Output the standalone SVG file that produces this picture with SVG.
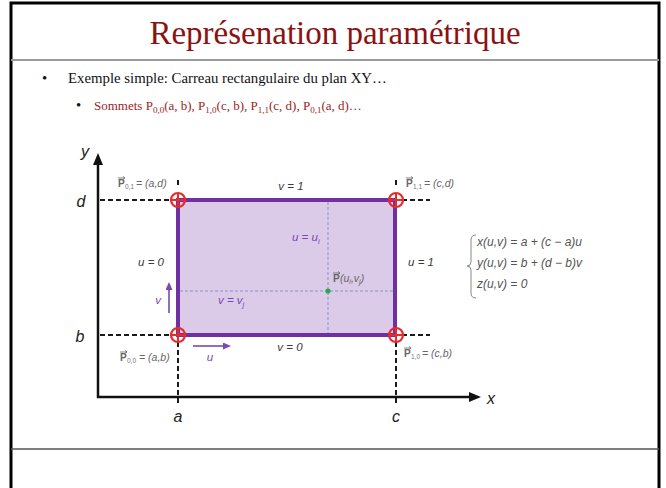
<svg xmlns="http://www.w3.org/2000/svg" width="666" height="488" viewBox="0 0 666 488">
<style>
.title{font-family:"Liberation Serif",serif;font-size:33px;fill:#8B1212}
.b1{font-family:"Liberation Serif",serif;font-size:14.8px;fill:#111}
.b2{font-family:"Liberation Serif",serif;font-size:13px;fill:#9E2424}
.ax{font-family:"Liberation Sans",sans-serif;font-style:italic;font-size:16px;fill:#222}
.lbl{font-family:"Liberation Sans",sans-serif;font-style:italic;font-size:11.5px;fill:#3a3a3a}
.pl{font-family:"Liberation Sans",sans-serif;font-style:italic;font-size:10.5px;fill:#666}
.ps{font-family:"Liberation Sans",sans-serif;font-style:normal;font-size:6.5px;fill:#777}
.pb{font-family:"Liberation Sans",sans-serif;font-style:normal;font-weight:bold;font-size:10px;fill:#666}
.pu{font-family:"Liberation Sans",sans-serif;font-style:italic;font-size:11.5px;fill:#7A48B0}
.eq{font-family:"Liberation Sans",sans-serif;font-style:italic;font-size:12px;fill:#555}
.dash{stroke:#1a1a1a;stroke-width:2;stroke-dasharray:5 3;fill:none}
.idash{stroke:#8A93C9;stroke-width:1;stroke-dasharray:3 2;fill:none}
.corner circle{fill:none;stroke:#E62B2B;stroke-width:2.2}
.corner line{stroke:#E62B2B;stroke-width:2}
.vec{stroke:#666;stroke-width:0.8;fill:none}
</style>
<defs>
<marker id="axhead" viewBox="0 0 12 10" refX="0" refY="5" markerWidth="12" markerHeight="10" markerUnits="userSpaceOnUse" orient="auto">
<path d="M0,0 L12,5 L0,10 z" fill="#111"/>
</marker>
<marker id="phead" viewBox="0 0 8 7" refX="0" refY="3.5" markerWidth="8" markerHeight="7" markerUnits="userSpaceOnUse" orient="auto">
<path d="M0,0 L8,3.5 L0,7 z" fill="#7A48B0"/>
</marker>
</defs>
<rect x="0" y="0" width="666" height="488" fill="#fff"/>
<g id="frame">
<rect x="11" y="3" width="648" height="495" fill="#fff" stroke="#000" stroke-width="3"/>
<line x1="11" y1="60" x2="659" y2="60" stroke="#9a9a9a" stroke-width="2"/>
<line x1="11" y1="449" x2="659" y2="449" stroke="#555" stroke-width="1.5"/>
</g>
<g id="title">
<text class="title" x="335" y="44" text-anchor="middle">Représenation paramétrique</text>
</g>
<g id="bullets">
<text class="b1" x="42" y="83">•</text>
<text class="b1" x="68" y="83">Exemple simple: Carreau rectangulaire du plan XY…</text>
<text class="b1" x="76" y="110" font-size="13">•</text>
<text class="b2" x="94" y="110">Sommets P<tspan font-size="9" dy="3">0,0</tspan><tspan dy="-3">(a, b), P</tspan><tspan font-size="9" dy="3">1,0</tspan><tspan dy="-3">(c, b), P</tspan><tspan font-size="9" dy="3">1,1</tspan><tspan dy="-3">(c, d), P</tspan><tspan font-size="9" dy="3">0,1</tspan><tspan dy="-3">(a, d)…</tspan></text>
</g>
<g id="patch">
<rect x="178" y="200" width="217" height="135" fill="#DCCAE9" stroke="#7030A0" stroke-width="4"/>
</g>
<g id="connectors">
<line x1="98" y1="398" x2="98" y2="165" stroke="#111" stroke-width="2.5" marker-end="url(#axhead)"/>
<line x1="97" y1="397" x2="469" y2="397" stroke="#111" stroke-width="2.5" marker-end="url(#axhead)"/>
<line class="dash" x1="100" y1="200" x2="172" y2="200"/>
<line class="dash" x1="402" y1="200" x2="430" y2="200"/>
<line class="dash" x1="100" y1="335" x2="172" y2="335"/>
<line class="dash" x1="402" y1="335" x2="430" y2="335"/>
<line class="dash" x1="178" y1="342" x2="178" y2="404"/>
<line class="dash" x1="396" y1="342" x2="396" y2="404"/>
<line class="dash" x1="178" y1="180" x2="178" y2="186"/>
<line class="dash" x1="396" y1="180" x2="396" y2="186"/>
<line class="idash" x1="328" y1="202" x2="328" y2="333"/>
<line class="idash" x1="180" y1="291" x2="393" y2="291"/>
<line x1="169" y1="313" x2="169" y2="290" stroke="#7A48B0" stroke-width="1.6" marker-end="url(#phead)"/>
<line x1="193" y1="346" x2="223" y2="346" stroke="#7A48B0" stroke-width="1.6" marker-end="url(#phead)"/>
</g>
<g id="corner-00" class="corner"><circle cx="178" cy="335" r="7"/><line x1="171" y1="335" x2="185" y2="335"/><line x1="178" y1="328" x2="178" y2="342"/></g>
<g id="corner-10" class="corner"><circle cx="396" cy="335" r="7"/><line x1="389" y1="335" x2="403" y2="335"/><line x1="396" y1="328" x2="396" y2="342"/></g>
<g id="corner-11" class="corner"><circle cx="396" cy="200" r="7"/><line x1="389" y1="200" x2="403" y2="200"/><line x1="396" y1="193" x2="396" y2="207"/></g>
<g id="corner-01" class="corner"><circle cx="178" cy="200" r="7"/><line x1="171" y1="200" x2="185" y2="200"/><line x1="178" y1="193" x2="178" y2="207"/></g>
<g id="point">
<circle cx="328" cy="291" r="2.6" fill="#2BA84A"/>
</g>
<g id="axis-labels">
<text class="ax" x="85" y="157" text-anchor="middle">y</text>
<text class="ax" x="491" y="404" text-anchor="middle">x</text>
<text class="ax" x="81" y="207" text-anchor="middle">d</text>
<text class="ax" x="80" y="342" text-anchor="middle">b</text>
<text class="ax" x="178" y="422" text-anchor="middle">a</text>
<text class="ax" x="396" y="422" text-anchor="middle">c</text>
</g>
<g id="edge-labels">
<text class="lbl" x="291" y="190" text-anchor="middle">v = 1</text>
<text class="lbl" x="290" y="351" text-anchor="middle">v = 0</text>
<text class="lbl" x="151" y="266" text-anchor="middle">u = 0</text>
<text class="lbl" x="421" y="266" text-anchor="middle">u = 1</text>
<text class="pu" x="292" y="241">u = u<tspan font-size="7.5" dy="3">i</tspan></text>
<text class="pu" x="218" y="304">v = v<tspan font-size="7.5" dy="3">j</tspan></text>
<text class="pu" x="158" y="304" text-anchor="middle">v</text>
<text class="pu" x="210" y="361" text-anchor="middle">u</text>
</g>
<g id="vertex-labels">
<g id="lbl-01"><path class="vec" d="M118,178 H125 M123,176.5 L125,178 L123,179.5"/><text class="pb" x="118" y="187">P</text><text class="ps" x="125" y="189">0,1</text><text class="pl" x="136" y="187">= (a,d)</text></g>
<g id="lbl-11"><path class="vec" d="M406,178 H413 M411,176.5 L413,178 L411,179.5"/><text class="pb" x="406" y="187">P</text><text class="ps" x="413" y="189">1,1</text><text class="pl" x="424" y="187">= (c,d)</text></g>
<g id="lbl-00"><path class="vec" d="M120,352 H127 M125,350.5 L127,352 L125,353.5"/><text class="pb" x="120" y="361">P</text><text class="ps" x="127" y="363">0,0</text><text class="pl" x="139" y="361">= (a,b)</text></g>
<g id="lbl-10"><path class="vec" d="M404,348 H411 M409,346.5 L411,348 L409,349.5"/><text class="pb" x="404" y="357">P</text><text class="ps" x="411" y="359">1,0</text><text class="pl" x="422" y="357">= (c,b)</text></g>
<g id="lbl-p"><path class="vec" d="M333,273 H340 M338,271.5 L340,273 L338,274.5"/><text class="pb" x="333" y="282">P</text><text class="pl" x="340" y="282">(u<tspan font-size="7" dy="2">i</tspan><tspan dy="-2">,v</tspan><tspan font-size="7" dy="2">j</tspan><tspan dy="-2">)</tspan></text></g>
</g>
<g id="equations">
<path d="M476,235 Q471,235 471,240 L471,262 Q471,266 467,266 Q471,266 471,270 L471,293 Q471,298 476,298" fill="none" stroke="#888" stroke-width="1"/>
<text class="eq" x="477" y="246">x(u,v) = a + (c − a)u</text>
<text class="eq" x="477" y="267">y(u,v) = b + (d − b)v</text>
<text class="eq" x="477" y="288">z(u,v) = 0</text>
</g>
</svg>
